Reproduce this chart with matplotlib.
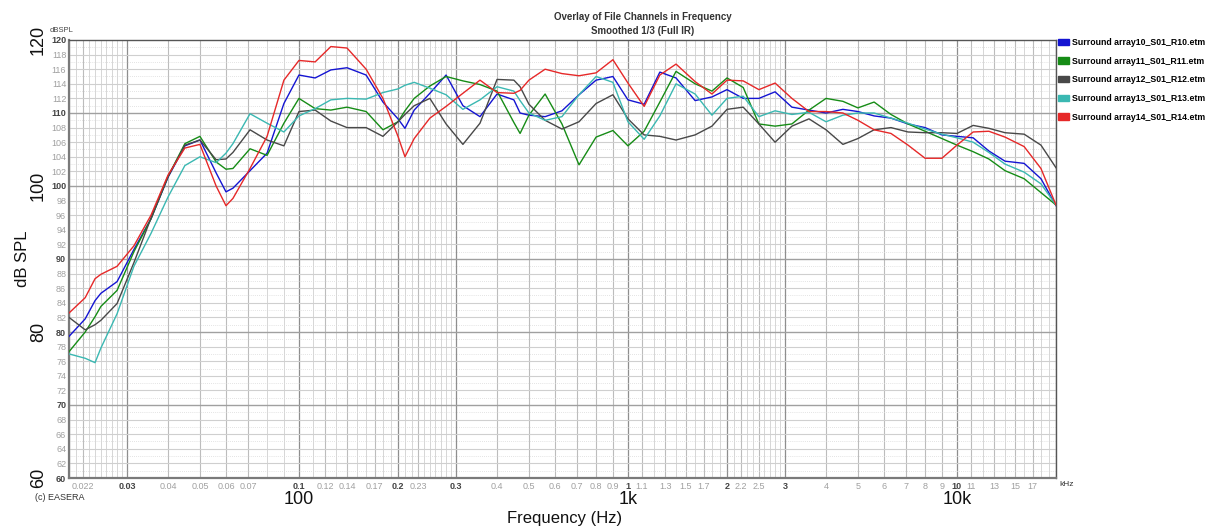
import matplotlib
matplotlib.use("Agg")
import matplotlib.pyplot as plt
from matplotlib.patches import Patch

plt.rcParams['font.family'] = ['Liberation Sans', 'DejaVu Sans']

# frequency points (Hz) shared by all five measurements
freq_hz = [20, 22.4, 24, 25, 28, 31.5, 35.5, 40, 45, 50, 56, 60, 63, 71, 80, 90, 100,
           112, 125, 140, 160, 180, 200, 210, 224, 250, 280, 315, 355, 400, 450, 470,
           500, 560, 630, 710, 800, 900, 1000,
           1120, 1250, 1400, 1600, 1800, 2000, 2240, 2500, 2800, 3150, 3550, 4000,
           4500, 5000, 5600, 6300, 7100, 8000, 9000, 10000,
           11200, 12500, 14000, 16000, 18000, 20000]

spl_r10 = [79.4, 81.8, 84.3, 85.3, 86.9, 91.3, 95.5, 101.2, 105.5, 106.3, 101.8, 99.2, 99.7, 102.1, 104.5, 111.3, 115.2,
           114.8, 115.9, 116.2, 115.2, 111.5, 109.2, 107.9, 110.4, 112.7, 115.2, 111.0, 109.5, 112.6, 111.8, 110.0,
           109.7, 109.5, 110.3, 112.5, 114.5, 115.0, 111.8,
           111.2, 115.6, 114.8, 111.7, 112.2, 113.2, 112.0, 112.0, 112.9, 110.8, 110.4, 110.0,
           110.5, 110.2, 109.6, 109.3, 108.5, 108.0, 107.0, 106.8,
           106.6, 104.8, 103.4, 103.1, 101.0, 97.3]

spl_r11 = [77.3, 80.0, 82.1, 83.5, 85.7, 91.0, 95.5, 101.3, 105.8, 106.8, 103.3, 102.3, 102.4, 105.1, 104.2, 108.6, 112.0,
           110.6, 110.4, 110.8, 110.2, 107.7, 108.8, 110.3, 112.0, 113.7, 115.0, 114.4, 113.9, 113.0, 108.7, 107.2,
           109.7, 112.6, 108.5, 102.9, 106.7, 107.6, 105.5,
           107.5, 111.5, 115.7, 114.0, 113.0, 114.8, 113.5, 108.5, 108.2, 108.5, 110.4, 112.0,
           111.6, 110.7, 111.5, 109.8, 108.5, 107.5, 106.5, 105.6,
           104.7, 103.7, 102.1, 101.0, 99.1, 97.4]

spl_r12 = [82.0, 80.3, 81.0, 81.6, 83.9, 89.5, 95.6, 101.3, 105.6, 106.3, 103.6, 103.7, 104.6, 107.7, 106.3, 105.5, 110.2,
           110.4, 108.9, 108.0, 108.0, 106.8, 108.8, 109.8, 111.0, 112.0, 108.5, 105.7, 108.6, 114.6, 114.5, 113.6,
           111.2, 109.0, 107.8, 108.8, 111.3, 112.5, 109.2,
           107.0, 106.8, 106.3, 107.0, 108.2, 110.5, 110.8, 108.5, 106.0, 108.2, 109.2, 107.7,
           105.7, 106.5, 107.7, 108.0, 107.4, 107.3, 107.3, 107.2,
           108.3, 107.9, 107.3, 107.1, 105.6, 102.5]

spl_r13 = [77.0, 76.4, 75.8, 77.8, 82.5, 89.0, 93.5, 98.5, 102.8, 104.0, 103.2, 104.5, 105.8, 109.9, 108.6, 107.4, 109.6,
           110.6, 111.8, 112.0, 111.9, 112.8, 113.3, 113.8, 114.2, 113.4, 112.5, 110.5, 111.8, 113.6, 113.0, 111.7,
           110.0, 109.0, 109.5, 112.5, 115.0, 114.2, 108.8,
           106.4, 109.6, 114.0, 112.6, 109.7, 112.0, 112.3, 109.5, 110.3, 109.8, 110.1, 108.8,
           109.7, 110.0, 110.0, 109.3, 108.6, 107.8, 107.1, 106.6,
           106.0, 104.6, 103.0, 101.9, 100.3, 97.4]

spl_r14 = [82.6, 84.7, 87.3, 87.9, 89.0, 91.8, 96.0, 101.5, 105.2, 105.7, 100.0, 97.3, 98.3, 102.4, 106.8, 114.5, 117.2,
           117.0, 119.1, 118.9, 116.0, 112.0, 106.8, 104.0, 106.5, 109.3, 110.9, 112.7, 114.5, 112.8, 112.7, 113.1,
           114.5, 116.0, 115.4, 115.1, 115.5, 117.3, 114.1,
           110.9, 115.2, 116.7, 114.3, 112.6, 114.5, 114.4, 113.2, 114.1, 112.0, 110.2, 110.2,
           110.0, 109.0, 107.7, 107.2, 105.6, 103.8, 103.8, 105.6,
           107.4, 107.5, 106.7, 105.4, 102.4, 97.4]

series_names = ["Surround array10_S01_R10.etm", "Surround array11_S01_R11.etm",
                "Surround array12_S01_R12.etm", "Surround array13_S01_R13.etm",
                "Surround array14_S01_R14.etm"]
series_colors = ["#1414d2", "#168c16", "#484848", "#3ab8b2", "#e62828"]

xtick_hz = [22, 30, 40, 50, 60, 70, 100, 120, 140, 170, 200, 230, 300, 400, 500, 600, 700,
            800, 900, 1000, 1100, 1300, 1500, 1700, 2000, 2200, 2500, 3000, 4000, 5000,
            6000, 7000, 8000, 9000, 10000, 11000, 13000, 15000, 17000]
xtick_text = ["0.022", "0.03", "0.04", "0.05", "0.06", "0.07", "0.1", "0.12", "0.14", "0.17",
              "0.2", "0.23", "0.3", "0.4", "0.5", "0.6", "0.7", "0.8", "0.9", "1", "1.1", "1.3",
              "1.5", "1.7", "2", "2.2", "2.5", "3", "4", "5", "6", "7", "8", "9", "10", "11",
              "13", "15", "17"]
xtick_bold = ["0.03", "0.1", "0.2", "0.3", "1", "2", "3", "10"]

big_x_hz = [100, 1000, 10000]
big_x_text = ["100", "1k", "10k"]
big_y_db = [120, 100, 80, 60]

fig = plt.figure(figsize=(12.12, 5.29), dpi=100)
ax = fig.add_axes([69 / 1212, 51 / 529, 987 / 1212, 438 / 529])
ax.set_xscale("log")
ax.set_xlim(20, 20000)
ax.set_ylim(60, 120)

# EASERA style grid: 0.1 steps from 1.0 to 2.9, then whole steps per decade
for dec in [10, 100, 1000, 10000]:
    mants = [1 + i / 10 for i in range(20)] + list(range(3, 10))
    for m in mants:
        f = round(m * dec, 6)
        if f < 20 or f > 20000:
            continue
        if m in (1, 2, 3):
            ax.axvline(f, color="#8e8e8e", lw=0.9, zorder=1)
        elif f in xtick_hz:
            ax.axvline(f, color="#bcbcbc", lw=0.8, zorder=1)
        else:
            ax.axvline(f, color="#d6d6d6", lw=0.7, zorder=1)

for db in range(61, 120):
    if db % 10 == 0:
        ax.axhline(db, color="#a0a0a0", lw=1.0, zorder=1)
    elif db % 2 == 0:
        ax.axhline(db, color="#cfcfcf", lw=0.8, zorder=1)
    else:
        ax.axhline(db, color="#dadada", lw=0.6, ls=(0, (1, 1.5)), zorder=1)

all_spl = [spl_r10, spl_r11, spl_r12, spl_r13, spl_r14]
for spl, col in zip(all_spl, series_colors):
    ax.plot(freq_hz, spl, color=col, lw=1.0, zorder=3)

for side in ["left", "bottom"]:
    ax.spines[side].set_color("#7a7a7a")
    ax.spines[side].set_linewidth(1.6)
for side in ["top", "right"]:
    ax.spines[side].set_color("#555555")
    ax.spines[side].set_linewidth(1.0)

ax.set_yticks(range(60, 121, 2))
ax.set_yticklabels([str(v) for v in range(60, 121, 2)])
for lab in ax.get_yticklabels():
    if int(lab.get_text()) % 10 == 0:
        lab.set_color("#444444")
        lab.set_fontweight("bold")
    else:
        lab.set_color("#a0a0a0")
ax.set_xticks(xtick_hz)
ax.set_xticklabels(xtick_text)
ax.xaxis.set_minor_locator(matplotlib.ticker.NullLocator())
for lab in ax.get_xticklabels():
    if lab.get_text() in xtick_bold:
        lab.set_color("#444444")
        lab.set_fontweight("bold")
    else:
        lab.set_color("#a0a0a0")
ax.tick_params(axis="both", length=0, labelsize=6.5)
ax.tick_params(axis="y", pad=2)
ax.tick_params(axis="x", pad=3)

# large outer labels
for f, t in zip(big_x_hz, big_x_text):
    ax.text(f, -0.05, t, transform=ax.get_xaxis_transform(), ha="center", va="center",
            fontsize=13, color="#111111")
for v in big_y_db:
    ax.text(-0.031, v, str(v), transform=ax.get_yaxis_transform(), ha="center", va="center",
            rotation=90, fontsize=13, color="#111111")
ax.text(-0.047, 90, "dB SPL", transform=ax.get_yaxis_transform(), ha="center", va="center",
        rotation=90, fontsize=12, color="#111111")
fig.text(565 / 1212, 1 - 519 / 529, "Frequency (Hz)", ha="center", va="center",
         fontsize=12, color="#111111")
fig.text(35 / 1212, 1 - 498 / 529, "(c) EASERA", ha="left", va="center", fontsize=6.5,
         color="#333333")
fig.text(1059 / 1212, 1 - 484 / 529, "kHz", ha="left", va="center", fontsize=6,
         color="#333333")
fig.text(50 / 1212, 1 - 31 / 529, "dBSPL", ha="left", va="center", fontsize=5.5,
         color="#444444")

fig.text(643 / 1212, 1 - 17 / 529, "Overlay of File Channels in Frequency", ha="center",
         va="center", fontsize=7, fontweight="bold", color="#333333")
fig.text(643 / 1212, 1 - 31 / 529, "Smoothed 1/3 (Full IR)", ha="center",
         va="center", fontsize=7, fontweight="bold", color="#333333")

handles = [Patch(facecolor=c, edgecolor=c) for c in series_colors]
fig.legend(handles, series_names, loc="upper left", bbox_to_anchor=(1058 / 1212, 1 - 38 / 529),
           frameon=False, prop={"size": 6.3, "weight": "bold"}, handlelength=1.3,
           handleheight=0.75, handletextpad=0.3, labelspacing=1.1, borderpad=0,
           borderaxespad=0)

fig.savefig("out.png", dpi=100)
